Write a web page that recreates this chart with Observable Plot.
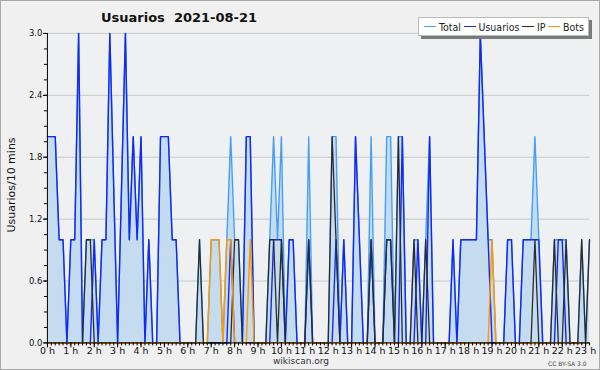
<!DOCTYPE html>
<html><head><meta charset="utf-8">
<script src="https://cdn.jsdelivr.net/npm/d3@7"></script>
<script src="https://cdn.jsdelivr.net/npm/@observablehq/plot@0.6"></script>
<style>
body{margin:0;background:#fff}
#wrap{position:relative;width:600px;height:370px;background:#f0f0f0;font-family:"DejaVu Sans",sans-serif;overflow:hidden;box-sizing:border-box;border:1px solid #a8a8a8}
#chart{position:absolute;left:-1px;top:-1px}
#title{position:absolute;left:100px;top:9px;font-size:13px;font-weight:bold;color:#111;white-space:pre}
#legend{position:absolute;left:417px;top:16px;width:171px;height:19px;background:#fff;border:1px solid #bbb;box-shadow:3px 3px 0 #7a7a7a;display:flex;align-items:center;justify-content:space-between;font-family:"DejaVu Sans Condensed","Liberation Sans",sans-serif;font-size:10.5px;color:#222;box-sizing:border-box;padding:0 4px 0 5px}
#legend span.sw{display:inline-block;width:12px;height:0;border-top:1.5px solid;margin-right:3px}
#legend span.it{display:inline-flex;align-items:center;white-space:nowrap}
#ylab{position:absolute;left:10px;top:184px;transform:translate(-50%,-50%) rotate(-90deg);font-size:11px;color:#111;white-space:nowrap}
#foot{position:absolute;left:300px;top:355px;transform:translateX(-50%);font-size:9px;color:#333}
#cc{position:absolute;left:547px;top:359px;font-size:6px;line-height:7px;color:#444;white-space:nowrap}
</style></head><body>
<div id="wrap">
<div id="chart"></div>
<div id="title">Usuarios  2021-08-21</div>
<div id="legend"></div>
<div id="ylab">Usuarios/10 mins</div>
<div id="foot">wikiscan.org</div>
<div id="cc">CC BY-SA 3.0</div>
</div>
<script>
// one value per 10 minutes from 00:00
const usuarios = [2,2,2,1,1,0,1,1,3,0, 0,0,1,0,1,1,3,1.5,0,1.5, 3,1,2,1,2,0,1,0,0,2, 2,2,1,1,0,0,0,0,0,0,
  0,0,0,0,0,0,0,1,0,0, 0,2,2,0,0,0,0,0,1,1, 1,0,1,1,0,0,0,1,0,0, 0,0,0,0,1,0,1,0,0,2,
  1,0,0,1,0,0,0,1,1,0, 0,2,0,0,0,1,0,0,2,0, 0,0,0,0,1,0,1,1,1,1, 1,3,2,1,0,0,0,0,1,1,
  0,0,1,1,1,1,1,0,0,0, 0,1,1,0,0,0,0,0,0,0];
const ip = [0,0,0,0,0,0,0,0,0,0, 1,1,0,0,0,0,0,0,0,0, 0,0,0,0,0,0,0,0,0,0, 0,0,0,0,0,0,0,0,0,1,
  0,0,0,0,0,0,0,0,1,1, 0,0,0,0,0,0,0,1,1,0, 1,0,0,0,0,0,0,1,0,0, 0,0,0,2,1,0,0,0,0,0,
  0,0,0,1,0,0,0,1,1,0, 2,0,0,0,1,0,0,1,0,0, 0,0,0,0,0,0,0,0,0,0, 0,0,0,0,0,0,0,0,0,0,
  0,0,0,0,0,1,0,0,0,0, 1,0,0,1,0,0,0,1,0,1];
const bots = [0,0,0,0,0,0,0,0,0,0, 0,0,0,0,0,0,0,0,0,0, 0,0,0,0,0,0,0,0,0,0, 0,0,0,0,0,0,0,0,0,0,
  0,0,1,1,1,0,1,1,0,0, 0,0,1,0,0,0,0,0,0,0, 0,0,0,0,0,0,0,0,0,0, 0,0,0,0,0,0,0,0,0,0,
  0,0,0,0,0,0,0,0,0,0, 0,0,0,0,0,0,0,0,0,0, 0,0,0,0,0,0,0,0,0,0, 0,0,0,0,1,0,0,0,0,0,
  0,0,0,0,0,0,0,0,0,0, 0,0,0,0,0,0,0,0,0,0];
const total = [2,2,2,1,1,0,1,1,3,0, 1,1,1,0,1,1,3,1.5,0,1.5, 3,1,2,1,2,0,1,0,0,2, 2,2,1,1,0,0,0,0,0,1,
  0,0,1,1,1,0,1,2,1,1, 0,2,2,0,0,0,0,1,2,1, 2,0,1,1,0,0,0,2,0,0, 0,0,0,2,2,0,1,0,0,2,
  1,0,0,2,0,0,0,2,2,0, 2,2,0,0,1,1,0,1,2,0, 0,0,0,0,1,0,1,1,1,1, 1,3,2,1,1,0,0,0,1,1,
  0,0,1,1,1,2,1,0,0,0, 1,1,1,1,0,0,0,1,0,1];
const hourTicks = d3.range(0, 24);
const hourLabels = hourTicks.map(h => h + " h");
const yMajor = [0, 0.6, 1.2, 1.8, 2.4, 3.0];
const seriesNames = ["Total", "Usuarios", "IP", "Bots"];
const seriesColors = ["#42a0f8", "#1428f0", "#2b2b2b", "#ff9900"];

const N = total.length;
const data = d3.range(N).map(i => ({t: i / 6, total: total[i], usuarios: usuarios[i], ip: ip[i], bots: bots[i]}));
const minor = d3.range(N).map(i => i / 6);
const yMinor = d3.range(0, 21).map(i => i * 0.15);

const chart = Plot.plot({
  width: 600, height: 370,
  marginLeft: 47, marginRight: 10, marginTop: 33, marginBottom: 27,
  style: {background: "transparent", fontFamily: "DejaVu Sans, sans-serif", color: "#111"},
  x: {type: "linear", domain: [0, (N - 1) / 6], axis: null, label: null},
  y: {domain: [0, 3], axis: null, label: null},
  marks: [
    Plot.frame({fill: "#eef0f2", stroke: null}),
    Plot.gridY(yMajor.slice(1), {stroke: "#c9c9c9", strokeOpacity: 1}),
    Plot.areaY(data, {x: "t", y: "total", fill: "#c5dcf0", fillOpacity: 1}),
    Plot.lineY(data, {x: "t", y: "total", stroke: seriesColors[0], strokeWidth: 1.4}),
    Plot.lineY(data, {x: "t", y: "usuarios", stroke: seriesColors[1], strokeWidth: 1.4}),
    Plot.lineY(data, {x: "t", y: "ip", stroke: seriesColors[2], strokeWidth: 1.3}),
    Plot.lineY(data, {x: "t", y: "bots", stroke: seriesColors[3], strokeWidth: 1.4}),
    Plot.ruleY(yMinor, {x1: 0, x2: 0, insetLeft: -3, stroke: "#000"}),
    Plot.axisY(yMajor, {tickSize: 4, tickPadding: 1, tickFormat: d3.format(".1f"), fontSize: 8.5, stroke: "#000", label: null}),
    Plot.ruleX(minor, {y1: 0, y2: 0, insetBottom: -3, stroke: "#000"}),
    Plot.axisX(hourTicks, {tickSize: 5, tickPadding: -1, tickFormat: d => hourLabels[d], fontSize: 9.5, stroke: "#000", label: null}),
    Plot.ruleX([0], {stroke: "#000", strokeWidth: 1}),
    Plot.ruleY([0], {stroke: "#000", strokeWidth: 1})
  ]
});
document.getElementById("chart").appendChild(chart);

const leg = document.getElementById("legend");
seriesNames.forEach((n, i) => {
  const it = document.createElement("span");
  it.className = "it";
  it.innerHTML = `<span class="sw" style="border-color:${seriesColors[i]}"></span>${n}`;
  leg.appendChild(it);
});
</script>
</body></html>
